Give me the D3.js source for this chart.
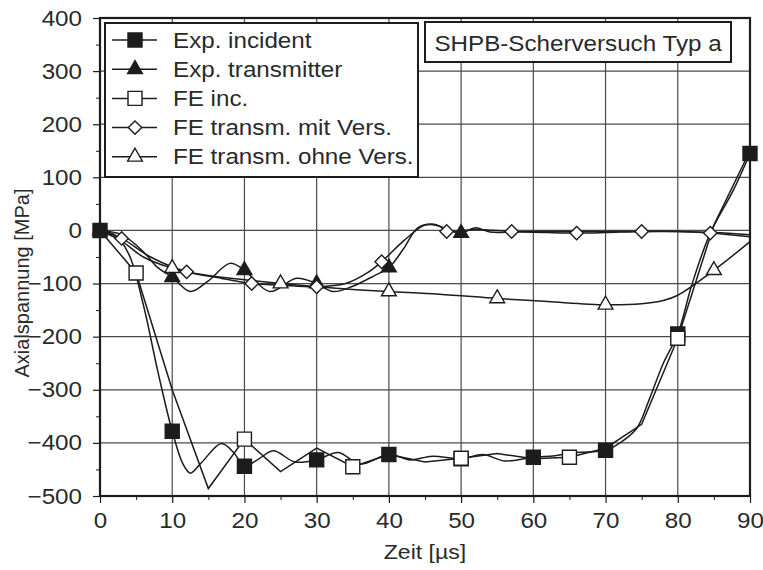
<!DOCTYPE html>
<html><head><meta charset="utf-8">
<script src="https://cdn.jsdelivr.net/npm/d3@7"></script>
<style>html,body{margin:0;padding:0;background:#fff}</style>
</head><body>
<svg id="chart" width="763" height="570"></svg>
<script>
// Zeit [µs] / Axialspannung [MPa] per series
const expIncT = [0, 2, 4, 6, 8, 10, 11.5, 12.5, 14, 16.8, 18.5, 20, 22, 24, 27, 30, 33, 36, 40, 43, 46, 50, 53, 56, 60, 63, 66, 70, 72, 74.3, 76, 78, 80, 82, 84.5, 87.7, 90];
const expIncV = [0, -8, -45, -140, -265, -378, -440, -457, -438, -401, -418, -444, -430, -415, -436, -432, -418, -440, -422, -432, -425, -430, -422, -434, -427, -424, -418, -414, -400, -373, -320, -250, -195, -100, -5, 76, 145];
const expIncMarks = [0, 10, 20, 30, 40, 50, 60, 70, 80, 90];

const expTrT = [0, 3, 6, 8, 10, 12.5, 15, 18, 20, 23.5, 27.2, 30, 32.3, 35, 38, 40, 42, 44, 46, 48, 50, 52, 54, 57, 60, 70, 80, 85, 90];
const expTrV = [0, -8, -40, -70, -88, -115, -95, -62, -75, -115, -90, -100, -115, -105, -85, -70, -35, 5, 12, 3, -5, 5, -3, -3, -2, -2, -2, -4, -8];
const expTrMarks = [0, 10, 20, 30, 40, 50];

const feIncT = [0, 5, 10, 15, 20, 25, 30, 35, 40, 45, 50, 55, 60, 65, 70, 75, 80, 85, 90];
const feIncV = [0, -80, -300, -486, -393, -454, -410, -445, -422, -436, -429, -420, -430, -427, -410, -365, -203, 10, 150];
const feIncMarks = [5, 20, 35, 50, 65, 80];

const feMitT = [0, 3, 7, 12, 16, 21, 25, 30, 34, 37, 39, 42, 45, 47, 48, 52, 57, 62, 66, 70, 75, 80, 84.5, 90];
const feMitV = [0, -15, -50, -78, -88, -100, -103, -106, -100, -80, -59, -20, 10, 8, -2, 2, -2, -4, -5, -4, -2, -2, -5, -12];
const feMitMarks = [3, 12, 21, 30, 39, 48, 57, 66, 75, 84.5];

const feOhneT = [0, 3, 6, 10, 15, 20, 25, 30, 35, 40, 47, 55, 62, 70, 75, 78, 80, 85, 90];
const feOhneV = [0, -20, -50, -71, -85, -93, -100, -106, -111, -115, -120, -128, -134, -140, -138, -132, -122, -75, -21];
const feOhneMarks = [10, 25, 40, 55, 70, 85];

const xTicks = [0, 10, 20, 30, 40, 50, 60, 70, 80, 90];
const yTicks = [-500, -400, -300, -200, -100, 0, 100, 200, 300, 400];
const legendLabels = ["Exp. incident", "Exp. transmitter", "FE inc.", "FE transm. mit Vers.", "FE transm. ohne Vers."];
const titleText = "SHPB-Scherversuch Typ a";
const xTitle = "Zeit [µs]";
const yTitle = "Axialspannung [MPa]";

const FONT = "'Liberation Sans', Arial, Helvetica, sans-serif";
const INK = "#1c1c1c";
const TEXT = "#2a2a2a";
const WIDEN = 1.1; // lettering is set slightly wide

const svg = d3.select("#chart");
svg.append("rect").attr("width", 763).attr("height", 570).attr("fill", "#fff");

const x = d3.scaleLinear().domain([0, 90]).range([100, 750]);
const y = d3.scaleLinear().domain([-500, 400]).range([496, 18]);

// wide text placed at (px, py)
function wideText(parent, px, py, str, size, anchor, baseline) {
  return parent.append("text")
    .attr("transform", `translate(${px},${py}) scale(${WIDEN},1)`)
    .attr("text-anchor", anchor || "start")
    .attr("dominant-baseline", baseline || "auto")
    .attr("font-family", FONT).attr("font-size", size).attr("fill", TEXT)
    .text(str);
}

// grid
const grid = svg.append("g").attr("stroke", "#4a4a4a").attr("stroke-width", 1.2);
grid.selectAll("line.v").data(xTicks.slice(1, -1)).join("line")
  .attr("x1", d => x(d)).attr("x2", d => x(d)).attr("y1", y(400)).attr("y2", y(-500));
grid.selectAll("line.h").data(yTicks.slice(1, -1)).join("line")
  .attr("y1", d => y(d)).attr("y2", d => y(d)).attr("x1", x(0)).attr("x2", x(90));

// minor ticks
const minorX = d3.range(5, 90, 10);
const minorY = d3.range(-450, 400, 100);
svg.append("g").attr("transform", "translate(0,496)")
  .call(d3.axisBottom(x).tickValues(minorX).tickSize(4).tickFormat(""))
  .call(g => g.select(".domain").remove())
  .selectAll("line").attr("stroke", INK);
svg.append("g").attr("transform", "translate(100,0)")
  .call(d3.axisLeft(y).tickValues(minorY).tickSize(4).tickFormat(""))
  .call(g => g.select(".domain").remove())
  .selectAll("line").attr("stroke", INK);

// major axes
const xAxis = svg.append("g").attr("transform", "translate(0,496)")
  .call(d3.axisBottom(x).tickValues(xTicks).tickSize(7).tickPadding(9).tickSizeOuter(0));
const yAxis = svg.append("g").attr("transform", "translate(100,0)")
  .call(d3.axisLeft(y).tickValues(yTicks).tickSize(7).tickPadding(11).tickSizeOuter(0));
[xAxis, yAxis].forEach(g => {
  g.select(".domain").remove();
  g.selectAll("line").attr("stroke", INK).attr("stroke-width", 1.2);
  g.selectAll("text").attr("font-family", FONT).attr("font-size", 22).attr("fill", TEXT);
});
xAxis.selectAll("text").attr("transform", `scale(${WIDEN},1)`);
yAxis.selectAll("text").each(function () {
  const t = d3.select(this);
  const x0 = +t.attr("x");
  t.attr("x", 0).attr("transform", `translate(${x0},0) scale(${WIDEN},1)`);
});

// frame
svg.append("rect").attr("x", x(0)).attr("y", y(400)).attr("width", x(90) - x(0)).attr("height", y(-500) - y(400))
  .attr("fill", "none").attr("stroke", INK).attr("stroke-width", 2.2);

// axis titles
wideText(svg, 425, 559, xTitle, 21, "middle");
svg.append("text").attr("transform", "translate(22,283) rotate(-90)").attr("text-anchor", "middle")
  .attr("dominant-baseline", "central")
  .attr("font-family", FONT).attr("font-size", 20).attr("fill", TEXT).text(yTitle);

// symbols
function drawSymbol(sel, kind, filled) {
  const fill = filled ? INK : "#fff";
  if (kind === "square") {
    sel.append("path").attr("d", d3.symbol(d3.symbolSquare, 196)()).attr("fill", fill).attr("stroke", INK).attr("stroke-width", 1.4);
  } else if (kind === "triangle") {
    sel.append("path").attr("d", d3.symbol(d3.symbolTriangle, 95)()).attr("fill", fill).attr("stroke", INK).attr("stroke-width", 1.4);
  } else if (kind === "diamond") {
    sel.append("path").attr("d", d3.symbol(d3.symbolSquare, 90)()).attr("transform", "rotate(45)")
      .attr("fill", fill).attr("stroke", INK).attr("stroke-width", 1.4);
  }
}

const series = [
  { t: expIncT, v: expIncV, marks: expIncMarks, curve: d3.curveCatmullRom, kind: "square", filled: true },
  { t: expTrT, v: expTrV, marks: expTrMarks, curve: d3.curveCatmullRom, kind: "triangle", filled: true },
  { t: feIncT, v: feIncV, marks: feIncMarks, curve: d3.curveLinear, kind: "square", filled: false },
  { t: feMitT, v: feMitV, marks: feMitMarks, curve: d3.curveCatmullRom, kind: "diamond", filled: false },
  { t: feOhneT, v: feOhneV, marks: feOhneMarks, curve: d3.curveCatmullRom, kind: "triangle", filled: false }
];

const plot = svg.append("g");
series.forEach(s => {
  const pts = s.t.map((t, i) => [t, s.v[i]]);
  plot.append("path").datum(pts)
    .attr("d", d3.line().x(d => x(d[0])).y(d => y(d[1])).curve(s.curve))
    .attr("fill", "none").attr("stroke", INK).attr("stroke-width", 1.5);
});
series.forEach(s => {
  s.marks.forEach(t => {
    const i = s.t.indexOf(t);
    const g = plot.append("g").attr("transform", `translate(${x(t)},${y(s.v[i])})`);
    drawSymbol(g, s.kind, s.filled);
  });
});

// legend
const lg = svg.append("g");
lg.append("rect").attr("x", 105).attr("y", 23).attr("width", 313).attr("height", 154)
  .attr("fill", "#fff").attr("stroke", INK).attr("stroke-width", 2);
legendLabels.forEach((label, i) => {
  const cy = 40 + i * 29.2;
  const s = series[i];
  lg.append("line").attr("x1", 112).attr("x2", 157).attr("y1", cy).attr("y2", cy)
    .attr("stroke", INK).attr("stroke-width", 1.5);
  drawSymbol(lg.append("g").attr("transform", `translate(135,${cy})`), s.kind, s.filled);
  wideText(lg, 173, cy, label, 22, "start", "central");
});

// title box
svg.append("rect").attr("x", 425).attr("y", 22).attr("width", 306).attr("height", 40)
  .attr("fill", "#fff").attr("stroke", INK).attr("stroke-width", 2);
wideText(svg, 578, 43, titleText, 22, "middle", "central");
</script>
</body></html>
